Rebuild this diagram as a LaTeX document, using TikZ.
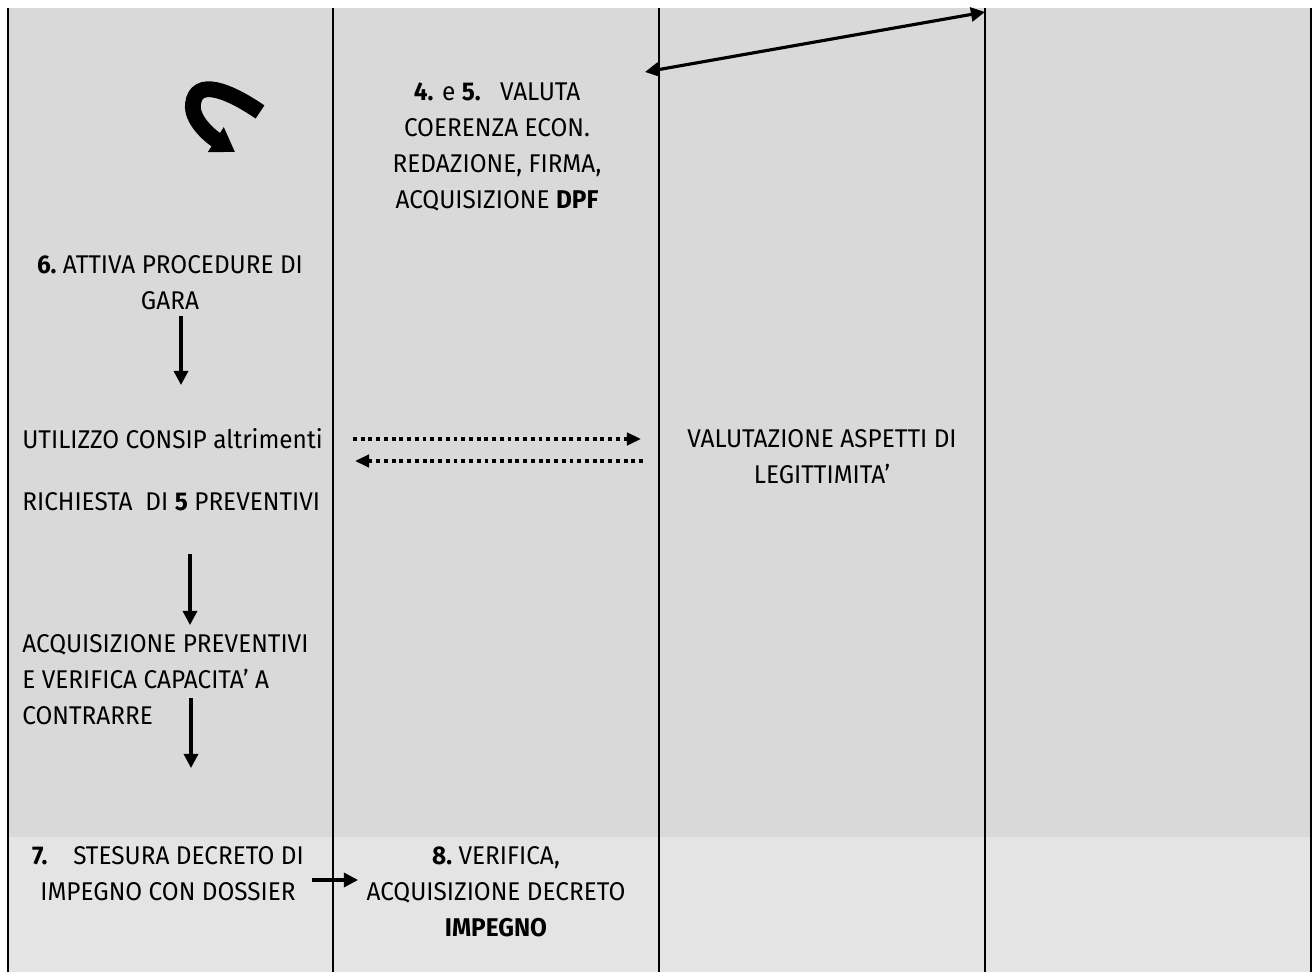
\documentclass[tikz,border=0pt]{standalone}
\usepackage{fontspec}
\setmainfont{Fira Sans}[FakeStretch=0.95]
\usepackage{tikz}
\usetikzlibrary{arrows.meta,positioning}
\definecolor{lanegris}{RGB}{217,217,217}
\definecolor{lanechiaro}{RGB}{228,228,228}
\tikzset{
  steptext/.style={
    align=center, inner sep=0pt,
    font=\fontsize{14.6}{20.5}\selectfont
  },
  lefttext/.style={
    align=left, anchor=west, inner sep=0pt,
    font=\fontsize{14.6}{20.5}\selectfont
  },
  lanesep/.style={line width=1.1pt, black},
  flowarrow/.style={-{Triangle[width=8pt,length=8pt]}, line width=1.8pt},
  dotarrow/.style={-{Triangle[width=7pt,length=8pt]}, line width=2.2pt,
    dash pattern=on 2.2pt off 2.2pt},
  bigarrow/.style={-{Triangle[width=16pt,length=13pt]}, line width=9pt}
}

\begin{document}
\begin{tikzpicture}[x=0.02cm,y=-0.02cm]
  \useasboundingbox (0,0) rectangle (1312,972);

  % Background of the lanes
  \fill[lanegris]   (8,8)   rectangle (1311,837);
  \fill[lanechiaro] (8,837) rectangle (1311,972);

  % Lane separators
  \foreach \x in {8,333,659,985,1311}
    \draw[lanesep] (\x,8) -- (\x,972);

  % Steps
  \node[steptext] (valuta) at (497,147)
    {\textbf{4.} e \textbf{5.}\ \ \ VALUTA\\COERENZA ECON.\\REDAZIONE, FIRMA,\\ACQUISIZIONE \textbf{DPF}};
  \node[steptext] (gara) at (170,283) {\textbf{6.}\ ATTIVA PROCEDURE DI\\GARA};
  \node[lefttext] (consip) at (22,439) {UTILIZZO CONSIP altrimenti};
  \node[lefttext] (richiesta) at (22,502) {RICHIESTA\ \ DI \textbf{5} PREVENTIVI};
  \node[lefttext] (preventivi) at (22,680)
    {ACQUISIZIONE PREVENTIVI\\E VERIFICA CAPACITA’ A\\CONTRARRE};
  \node[steptext] (legitt) at (822,457) {VALUTAZIONE ASPETTI DI\\LEGITTIMITA’};
  \node[steptext] (stesura) at (168,874)
    {\textbf{7.}\ \ \ \ STESURA DECRETO DI\\IMPEGNO CON DOSSIER};
  \node[steptext] (verifica) at (496,892)
    {\textbf{8.}\ VERIFICA,\\ACQUISIZIONE DECRETO\\\textbf{IMPEGNO}};

  % Arrow ends
  \coordinate (dpfa)  at (645,72);
  \coordinate (dpfb)  at (985,12);
  \coordinate (loopa) at (260,112);
  \coordinate (loopb) at (235,152);
  \coordinate (d1a) at (181,316);  \coordinate (d1b) at (181,385);
  \coordinate (d2a) at (190,554);  \coordinate (d2b) at (190,625);
  \coordinate (d3a) at (191,698);  \coordinate (d3b) at (191,768);
  \coordinate (la)  at (353,439);  \coordinate (lb)  at (641,439);
  \coordinate (ra)  at (643,461);  \coordinate (rb)  at (355,461);
  \coordinate (ia)  at (312,880);  \coordinate (ib)  at (358,880);

  % Arrows
  \draw[{Triangle[width=8pt,length=8pt]}-{Triangle[width=8pt,length=8pt]},
    line width=1.8pt] (dpfa) -- (dpfb);
  \draw[bigarrow] (loopa) .. controls (228,90) and (196,78) .. (193,104)
    .. controls (191,120) and (210,136) .. (loopb);
  \draw[flowarrow] (d1a) -- (d1b);
  \draw[flowarrow] (d2a) -- (d2b);
  \draw[flowarrow] (d3a) -- (d3b);
  \draw[dotarrow] (la) -- (lb);
  \draw[dotarrow] (ra) -- (rb);
  \draw[flowarrow] (ia) -- (ib);
\end{tikzpicture}
\end{document}
